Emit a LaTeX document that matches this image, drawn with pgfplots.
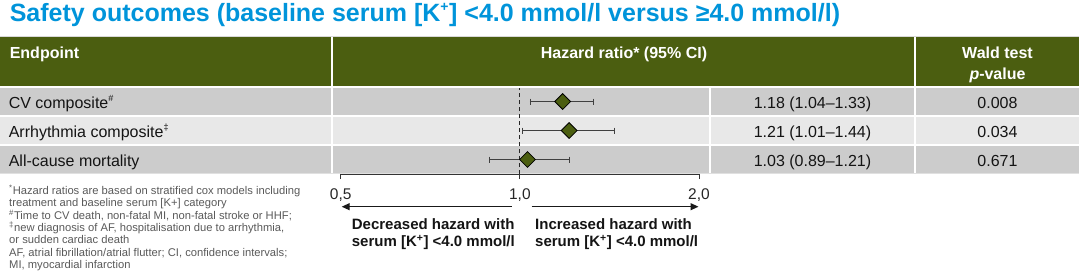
\documentclass[border=0pt]{standalone}
\usepackage{fontspec}
\setmainfont{Liberation Sans}
\usepackage{pgfplots}
\pgfplotsset{compat=1.18}
\usetikzlibrary{arrows.meta}
\definecolor{hdr}{RGB}{75,94,16}
\definecolor{rowd}{RGB}{204,204,204}
\definecolor{rowl}{RGB}{232,232,232}
\definecolor{ttl}{RGB}{0,148,218}
\definecolor{fn}{RGB}{89,89,89}
\definecolor{txt}{RGB}{20,20,20}
\newcommand{\hfont}{\fontsize{16}{19}\selectfont\bfseries}
\newcommand{\bfont}{\fontsize{16}{19}\selectfont}
\newcommand{\ffont}{\fontsize{11.2}{12.4}\selectfont}
\newcommand{\afont}{\fontsize{15}{18}\selectfont\bfseries}
\begin{document}
\begin{tikzpicture}
\begin{scope}[x=1pt,y=-1pt]
\path[use as bounding box] (0,0) rectangle (1080,279);
% title
\node[anchor=base west, inner sep=0, text=ttl, font=\fontsize{25}{30}\selectfont\bfseries] at (9.6,21) {Safety outcomes (baseline serum [K\textsuperscript{\fontsize{14}{14}\selectfont +}] <4.0 mmol/l versus ≥4.0 mmol/l)};
% table header
\fill[hdr] (0,37) rectangle (331,86);
\fill[hdr] (333,37) rectangle (914,86);
\fill[hdr] (916,37) rectangle (1079,86);
\draw[black!15, line width=0.6pt] (0,36.7) -- (1079,36.7);
% rows
\foreach \ya/\yb/\c in {88/115/rowd, 117/144/rowl, 146/173/rowd}{
  \fill[\c] (0,\ya) rectangle (331,\yb);
  \fill[\c] (333,\ya) rectangle (709,\yb);
  \fill[\c] (711,\ya) rectangle (914,\yb);
  \fill[\c] (916,\ya) rectangle (1079,\yb);
}
\draw[black!12, line width=0.6pt] (0,173.4) -- (1079,173.4);
% header text
\node[anchor=base west, inner sep=0, text=white, font=\hfont] at (9.6,58.5) {Endpoint};
\node[anchor=base, inner sep=0, text=white, font=\hfont] at (624,58.5) {Hazard ratio* (95\% CI)};
\node[anchor=base, inner sep=0, text=white, font=\hfont] at (997.5,58.5) {Wald test};
\node[anchor=base, inner sep=0, text=white, font=\hfont] at (997.5,79) {\textit{p}-value};
% body text
\node[anchor=base west, inner sep=0, text=txt, font=\bfont] at (8.6,108) {CV composite\textsuperscript{\fontsize{9}{9}\selectfont\#}};
\node[anchor=base west, inner sep=0, text=txt, font=\bfont] at (8.6,137) {Arrhythmia composite\textsuperscript{\fontsize{9}{9}\selectfont ‡}};
\node[anchor=base west, inner sep=0, text=txt, font=\bfont] at (8.6,166) {All-cause mortality};
\node[anchor=base, inner sep=0, text=txt, font=\bfont] at (812.5,108) {1.18 (1.04–1.33)};
\node[anchor=base, inner sep=0, text=txt, font=\bfont] at (812.5,137) {1.21 (1.01–1.44)};
\node[anchor=base, inner sep=0, text=txt, font=\bfont] at (812.5,166) {1.03 (0.89–1.21)};
\node[anchor=base, inner sep=0, text=txt, font=\bfont] at (997.5,108) {0.008};
\node[anchor=base, inner sep=0, text=txt, font=\bfont] at (997.5,137) {0.034};
\node[anchor=base, inner sep=0, text=txt, font=\bfont] at (997.5,166) {0.671};
% footnotes
\foreach \yy/\tt in {194.3/{\textsuperscript{*}Hazard ratios are based on stratified cox models including},
  206.7/{treatment and baseline serum [K+] category},
  219.1/{\textsuperscript{\#}Time to CV death, non-fatal MI, non-fatal stroke or HHF;},
  231.5/{\textsuperscript{‡}new diagnosis of AF, hospitalisation due to arrhythmia,},
  243.9/{or sudden cardiac death},
  256.3/{AF, atrial fibrillation/atrial flutter; CI, confidence intervals;},
  268.7/{MI, myocardial infarction}}{
  \node[anchor=base west, inner sep=0, text=fn, font=\ffont] at (9,\yy) {\tt};
}
% arrows
\draw[-{Triangle[length=8pt,width=7pt]}, line width=1.2pt, black!90] (511.7,206.7) -- (341.7,206.7);
\draw[-{Triangle[length=8pt,width=7pt]}, line width=1.2pt, black!90] (531.7,206.7) -- (698.5,206.7);
\node[anchor=base west, inner sep=0, text=txt, font=\afont] at (351.7,229.3) {Decreased hazard with};
\node[anchor=base west, inner sep=0, text=txt, font=\afont] at (351.7,246.7) {serum [K\textsuperscript{+}] <4.0 mmol/l};
\node[anchor=base west, inner sep=0, text=txt, font=\afont] at (535,229.3) {Increased hazard with};
\node[anchor=base west, inner sep=0, text=txt, font=\afont] at (535,246.7) {serum [K\textsuperscript{+}] <4.0 mmol/l};
\end{scope}
\begin{axis}[
  at={(340.7pt,-174pt)}, anchor=south west,
  scale only axis, width=358.3pt, height=86pt,
  xmode=log, log basis x=2,
  xmin=0.5, xmax=2, ymin=0.5, ymax=3.466,
  axis x line*=bottom, axis y line=none,
  xtick={0.5,1,2}, xticklabels={{0,5},{1,0},{2,0}},
  minor xtick={},
  tick align=outside, major tick length=5pt,
  x axis line style={black!80, line width=0.9pt},
  x tick style={black!80, line width=0.9pt},
  xticklabel style={font=\fontsize{15.5}{18}\selectfont, text=black!85, yshift=-6pt},
  /pgf/number format/assume math mode=true,
  clip=false,
]
\addplot[black!85, line width=1.1pt, dash pattern=on 4pt off 3pt] coordinates {(1,0.5) (1,3.466)};
\addplot[black!75, line width=0.9pt, mark=|, mark size=3pt, mark options={solid}] coordinates {(1.04,3) (1.33,3)};
\addplot[black!75, line width=0.9pt, mark=|, mark size=3pt, mark options={solid}] coordinates {(1.01,2) (1.44,2)};
\addplot[black!75, line width=0.9pt, mark=|, mark size=3pt, mark options={solid}] coordinates {(0.89,1) (1.21,1)};
\addplot[only marks, mark=square*, mark size=5.6pt, mark options={rotate=45, fill=hdr, draw=black, line width=0.8pt}] coordinates {(1.18,3) (1.21,2) (1.03,1)};
\end{axis}
\end{tikzpicture}
\end{document}
